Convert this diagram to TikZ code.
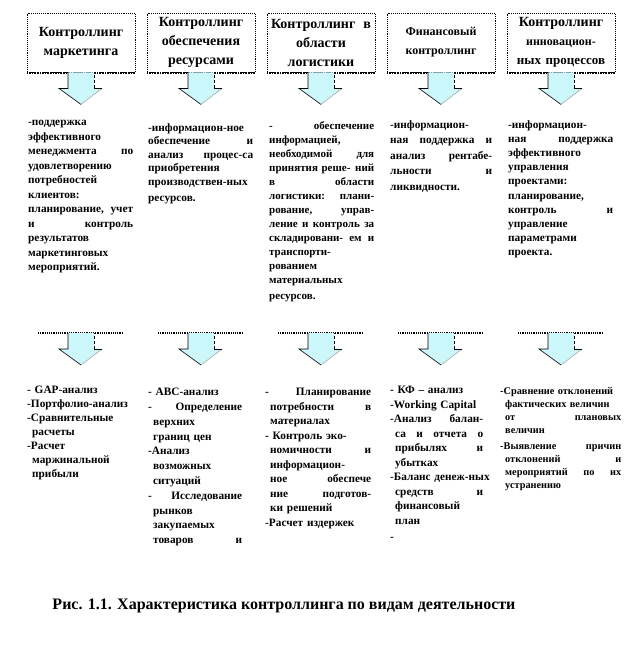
\documentclass[tikz,border=0pt]{standalone}
\usepackage{fontspec}
\setmainfont{Liberation Serif}
\usetikzlibrary{positioning}

\definecolor{arrfill}{RGB}{204,248,252}
\newcommand{\jline}[1]{\leavevmode\hbox to \hsize{#1}}

\begin{document}
\begin{tikzpicture}[x=1pt, y=-1pt,
    hdr/.style={draw, densely dotted, line width=0.9pt, fill=white,
        minimum width=108pt, minimum height=59pt, text width=100pt,
        inner sep=0pt, align=center, font=\bfseries\fontsize{14}{19}\selectfont},
    txt/.style={anchor=north west, inner sep=0pt, text width=105pt, align=left,
        font=\bfseries\fontsize{11.3}{14.5}\selectfont},
    cutline/.style={densely dotted, line width=1.2pt},
    pics/downarr/.style={code={
        \fill[arrfill] (-13,0) -- (-13,16) -- (-22,16) -- (0,32) -- (21,16)
            -- (13,16) -- (13,0) -- cycle;
        \draw[line width=0.6pt] (-13,0) -- (-13,16) -- (-22,16) -- (0,32);
        \draw[line width=0.6pt, gray!70] (0,32) -- (21,16);
        \draw[line width=0.6pt] (21,16) -- (13,16);
        \draw[line width=0.6pt, densely dashed] (13,16) -- (13,0);
    }}]
    \useasboundingbox (0,0) rectangle (630,648);

    % 1. Заголовки (виды контроллинга)
    \node[hdr] (ctrlMark) at (81,42.5) {Контроллинг\\маркетинга};
    \node[hdr] (ctrlRes) at (201,42.5) {Контроллинг\\обеспечения\\ресурсами};
    \node[hdr] (ctrlLog) at (321,42.5) {Контроллинг\hfill в\\области\\логистики};
    \node[hdr, font=\bfseries\fontsize{12}{19}\selectfont] (ctrlFin) at (441,42.5)
        {Финансовый\\контроллинг};
    \node[hdr] (ctrlInn) at (561,42.5)
        {Контроллинг\\{\fontsize{12}{19}\selectfont инновацион-}\\{\fontsize{13}{19}\selectfont ных процессов}};
    \foreach \b in {ctrlMark,ctrlRes,ctrlLog,ctrlFin,ctrlInn}
        \draw[densely dotted, line width=1.6pt] ([yshift=-0.5pt]\b.south west) -- ([yshift=-0.5pt]\b.south east);

    % 2. Стрелки вниз от заголовков
    \foreach \b in {ctrlMark,ctrlRes,ctrlLog,ctrlFin,ctrlInn}
        \pic at (\b.south) {downarr};

    % 3. Задачи
    \node[txt] (taskMark) at (28,120) {%
        -поддержка\\
        эффективного\\
        менеджмента \hfill по\\
        удовлетворению\\
        потребностей\\
        клиентов:\\
        планирование, \hfill учет\\
        и \hfill контроль\\
        результатов\\
        маркетинговых\\
        мероприятий.};
    \node[txt, font=\bfseries\fontsize{11.3}{13.5}\selectfont] (taskRes) at (148,123) {%
        -информацион-ное\\
        обеспечение \hfill и\\
        анализ \hfill процес-са\\
        приобретения\\
        производствен-ных\\[3pt]
        ресурсов.};
    \node[txt, font=\bfseries\fontsize{11}{14}\selectfont] (taskLog) at (269,121) {%
        - \hfill обеспечение\\
        информацией,\\
        необходимой \hfill для\\
        \jline{принятия\ реше-\hfill ний}\\
        в \hfill области\\
        логистики: \hfill плани-\\
        рование, \hfill управ-\\
        \jline{ление\hfill и\hfill контроль\hfill за}\\
        \jline{складировани-\hfill ем\hfill и}\\
        транспорти-\\
        рованием\\
        материальных\\[2pt]
        ресурсов.};
    \node[txt, text width=102pt, font=\bfseries\fontsize{11.3}{15.5}\selectfont] (taskFin) at (390,120) {%
        -информацион-\\
        ная \hfill поддержка \hfill и\\
        анализ \hfill рентабе-\\
        льности \hfill и\\
        ликвидности.};
    \node[txt, font=\bfseries\fontsize{11.3}{14.2}\selectfont] (taskInn) at (508,120) {%
        -информацион-\\
        ная \hfill поддержка\\
        эффективного\\
        управления\\
        проектами:\\
        планирование,\\
        контроль \hfill и\\
        управление\\
        параметрами\\
        проекта.};

    % 4. Второй ряд стрелок
    \foreach \c/\x in {cutA/81,cutB/201,cutC/321,cutD/441,cutE/561} {
        \coordinate (\c) at (\x,333);
        \draw[cutline] ([xshift=-43pt]\c) -- ([xshift=42pt]\c);
        \pic at (\c) {downarr};
    }

    % 5. Методы и инструменты
    \node[txt, font=\bfseries\fontsize{11.3}{14}\selectfont] (toolMark) at (27,386) {%
        - GAP-анализ\\
        -Портфолио-анализ\\
        -Сравнительные\\
        \hspace*{5pt}расчеты\\
        -Расчет\\
        \hspace*{5pt}маржинальной\\
        \hspace*{5pt}прибыли};
    \node[txt, text width=94pt, font=\bfseries\fontsize{11.3}{14.8}\selectfont] (toolRes) at (148,388) {%
        - АВС-анализ\\
        - \hfill Определение\\
        \hspace*{5pt}верхних\\
        \hspace*{5pt}границ цен\\
        -Анализ\\
        \hspace*{5pt}возможных\\
        \hspace*{5pt}ситуаций\\
        - \hfill Исследование\\
        \hspace*{5pt}рынков\\
        \hspace*{5pt}закупаемых\\
        \hspace*{5pt}товаров \hfill и};
    \node[txt, text width=106pt, font=\bfseries\fontsize{11.3}{14.5}\selectfont] (toolLog) at (265,388) {%
        - \hfill Планирование\\
        \hspace*{5pt}потребности \hfill в\\
        \hspace*{5pt}материалах\\
        - Контроль эко-\\
        \hspace*{5pt}номичности \hfill и\\
        \hspace*{5pt}информацион-\\
        \hspace*{5pt}ное \hfill обеспече\\
        \hspace*{5pt}ние \hfill подготов-\\
        \hspace*{5pt}ки решений\\
        -Расчет издержек};
    \node[txt, text width=93pt, font=\bfseries\fontsize{11.3}{14.5}\selectfont] (toolFin) at (390,386) {%
        - КФ – анализ\\
        -Working Capital\\
        -Анализ \hfill балан-\\
        \hspace*{5pt}са \hfill и \hfill отчета \hfill о\\
        \hspace*{5pt}прибылях \hfill и\\
        \hspace*{5pt}убытках\\
        \mbox{-Баланс денеж-ных}\\
        \hspace*{5pt}средств \hfill и\\
        \hspace*{5pt}финансовый\\
        \hspace*{5pt}план\\[2pt]
        -};
    \node[txt, text width=121pt, font=\bfseries\fontsize{10.3}{13.2}\selectfont] (toolInn) at (500,387) {%
        -Сравнение отклонений\\
        \hspace*{5pt}фактических величин\\
        \hspace*{5pt}от \hfill плановых\\
        \hspace*{5pt}величин\\[2pt]
        -Выявление \hfill причин\\
        \hspace*{5pt}отклонений \hfill и\\
        \hspace*{5pt}мероприятий \hfill по \hfill их\\
        \hspace*{5pt}устранению};

    % 6. Подпись
    \node[font=\bfseries\fontsize{16}{19}\selectfont] (caption) at (284,606)
        {Рис. 1.1. Характеристика контроллинга по видам деятельности};
\end{tikzpicture}
\end{document}
